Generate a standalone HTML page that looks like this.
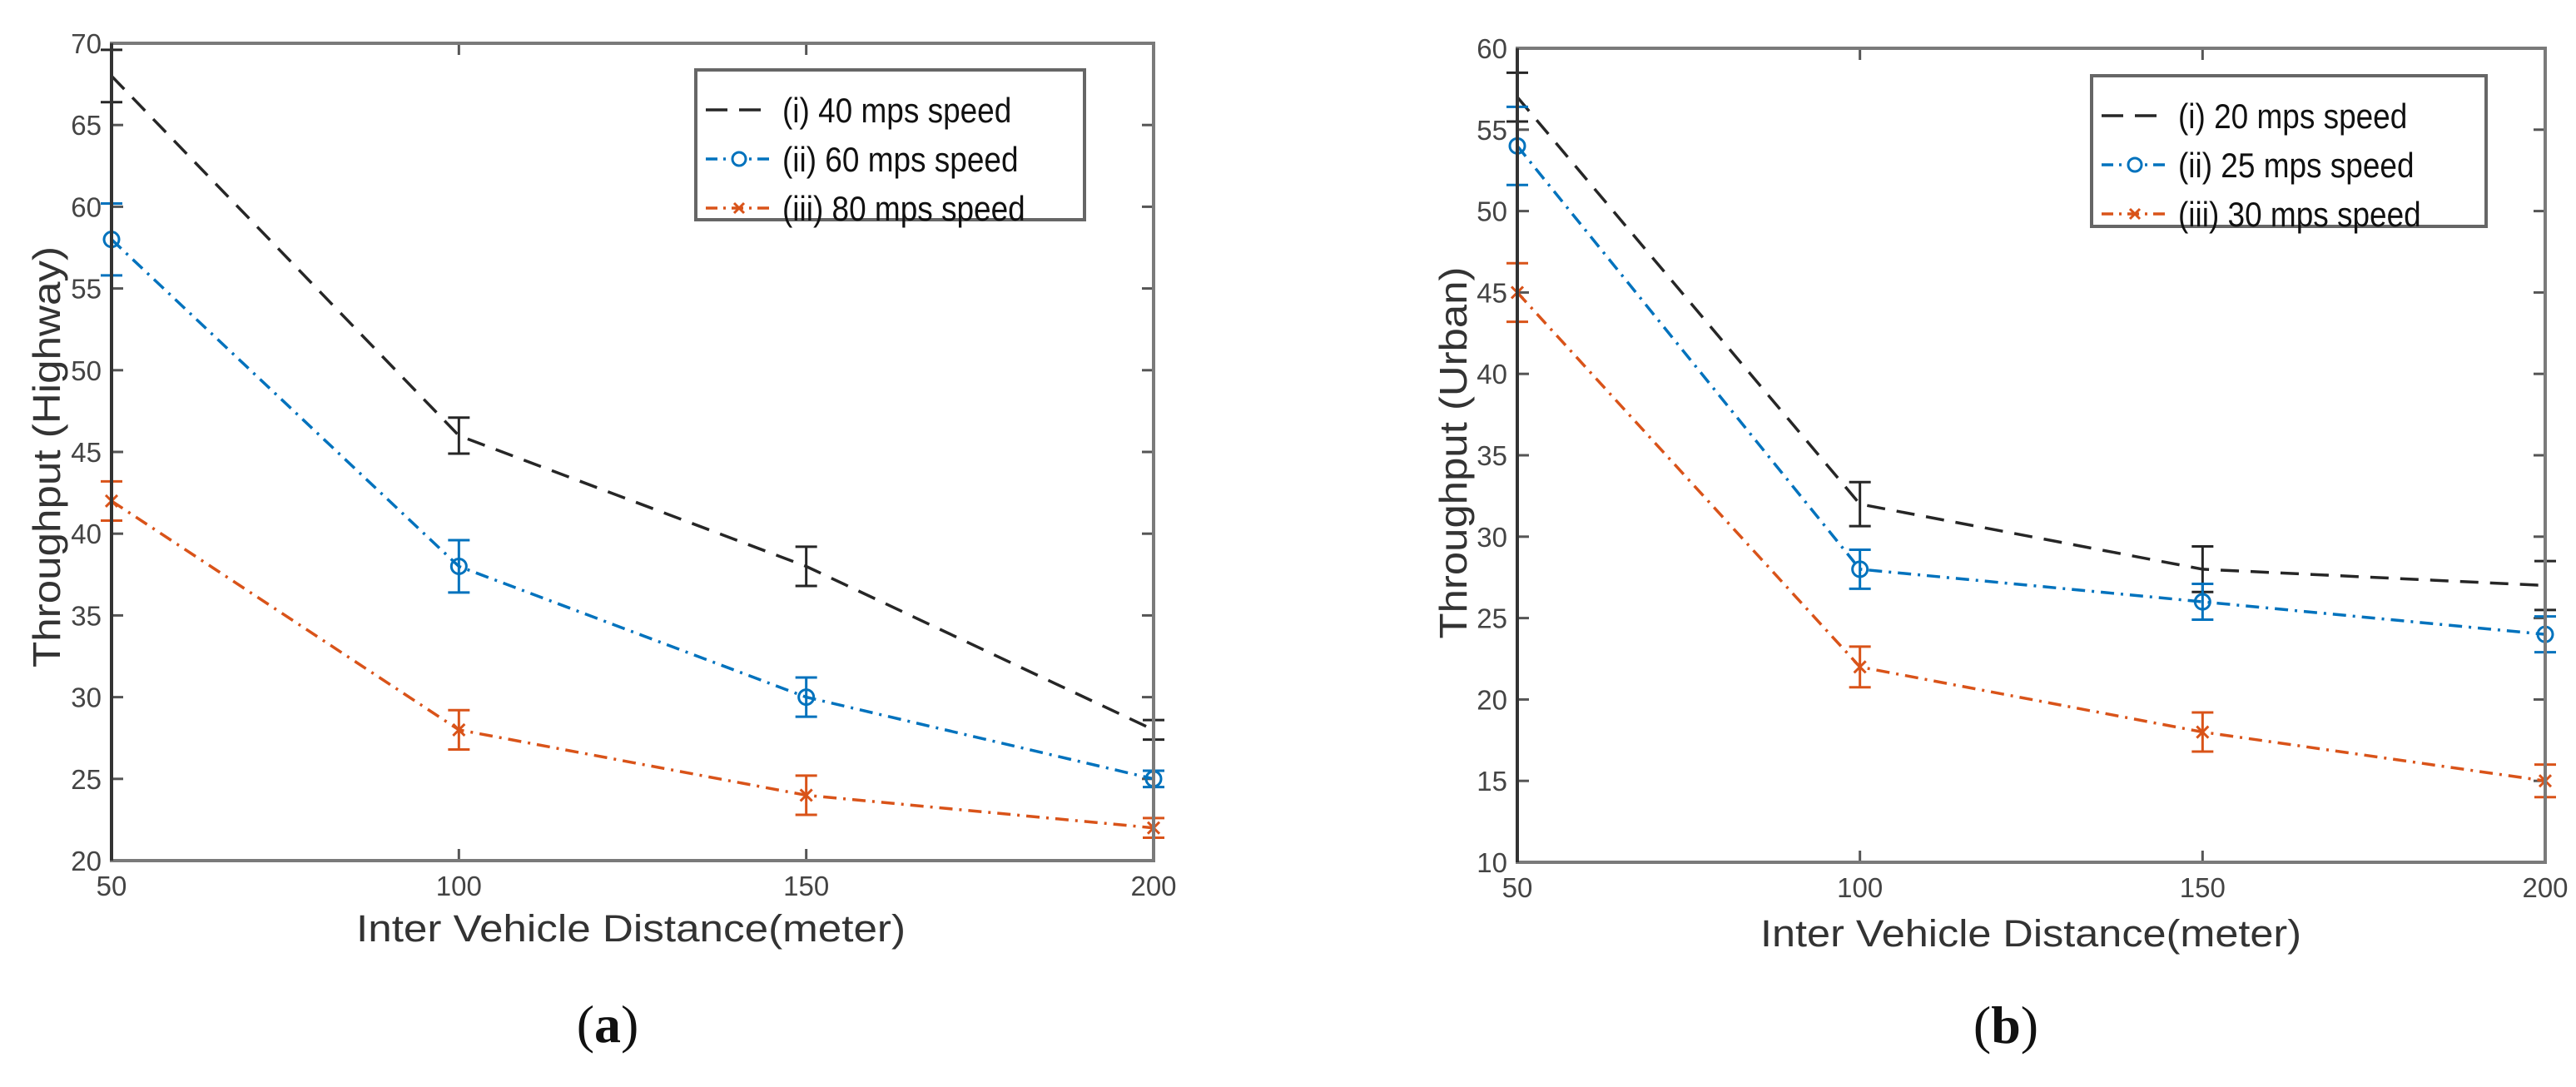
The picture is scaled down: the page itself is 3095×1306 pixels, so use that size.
<!DOCTYPE html>
<html><head><meta charset="utf-8"><style>
html,body{margin:0;padding:0;background:#fff;}
svg{display:block;font-family:"Liberation Sans",Arial,sans-serif;}
</style></head><body>
<svg id="fig" width="3095" height="1306" viewBox="0 0 3095 1306" xmlns="http://www.w3.org/2000/svg"></svg>
<script>
// ---- data ----
const xCats = [50, 100, 150, 200];
const xTickLabels = ["50", "100", "150", "200"];
const yTicksA = [20, 25, 30, 35, 40, 45, 50, 55, 60, 65, 70];
const yTicksB = [10, 15, 20, 25, 30, 35, 40, 45, 50, 55, 60];

const a40 = [68, 46, 38, 28];
const a40Err = [1.6, 1.1, 1.2, 0.6];
const a60 = [58, 38, 30, 25];
const a60Err = [2.2, 1.6, 1.2, 0.5];
const a80 = [42, 28, 24, 22];
const a80Err = [1.2, 1.2, 1.2, 0.6];

const b20 = [57, 32, 28, 27];
const b20Err = [1.5, 1.35, 1.4, 1.5];
const b25 = [54, 28, 26, 24];
const b25Err = [2.4, 1.2, 1.1, 1.1];
const b30 = [45, 22, 18, 15];
const b30Err = [1.8, 1.25, 1.2, 1.0];

const legendA = ["(i) 40 mps speed", "(ii) 60 mps speed", "(iii) 80 mps speed"];
const legendB = ["(i) 20 mps speed", "(ii) 25 mps speed", "(iii) 30 mps speed"];

const NS = "http://www.w3.org/2000/svg";
const svg = document.getElementById("fig");
function mk(tag, attrs, parent) {
  const e = document.createElementNS(NS, tag);
  for (const k in attrs) e.setAttribute(k, attrs[k]);
  (parent || svg).appendChild(e);
  return e;
}
const COLORS = ["#262626", "#0072BD", "#D95319"];
const DASH = ["22,14", "16,8,3,8", "16,8,3,8"];

function drawPanel(p) {
  const g = mk("g", {});
  
  
  const xs = v => p.x0 + (v - xCats[0]) / (xCats[xCats.length - 1] - xCats[0]) * (p.x1 - p.x0);
  const ys = v => p.y1 - (v - p.ymin) / (p.ymax - p.ymin) * (p.y1 - p.y0);
  const clip = mk("clipPath", {id: p.name + "-clip"}, g);
  mk("rect", {x: p.x0 - 30, y: p.y0, width: p.x1 - p.x0 + 60, height: p.y1 - p.y0}, clip);

  p.yTicks.forEach(t => {
    const y = ys(t);
    const l1 = mk("line", {x1: p.x0, x2: p.x0 + 14, y1: y, y2: y, stroke: "#555", "stroke-width": 3}, g);
    
    
    mk("line", {x1: p.x1 - 14, x2: p.x1, y1: y, y2: y, stroke: "#555", "stroke-width": 3}, g);
    const tx = mk("text", {x: p.x0 - 12, y: y + 12, "text-anchor": "end", "font-size": 33, fill: "#444"}, g);
    tx.textContent = t;
    
    
  });
  xCats.forEach((c, i) => {
    const x = xs(c);
    mk("line", {x1: x, x2: x, y1: p.y1, y2: p.y1 - 14, stroke: "#555", "stroke-width": 3}, g);
    mk("line", {x1: x, x2: x, y1: p.y0, y2: p.y0 + 14, stroke: "#555", "stroke-width": 3}, g);
    const tx = mk("text", {x: x, y: p.y1 + 42, "text-anchor": "middle", "font-size": 33, fill: "#444"}, g);
    tx.textContent = xTickLabels[i];
    
    
  });

  p.series.forEach((s, si) => {
    const sg = mk("g", {"clip-path": "url(#" + p.name + "-clip)"}, g);
    
    
    const pts = s.v.map((v, i) => xs(xCats[i]) + "," + ys(v)).join(" ");
    const pl = mk("polyline", {points: pts, fill: "none", stroke: COLORS[si], "stroke-width": 3.5, "stroke-dasharray": DASH[si]}, sg);
    
    
    s.v.forEach((v, i) => {
      const x = xs(xCats[i]);
      const yt = ys(v + s.e[i]), yb = ys(v - s.e[i]);
      const eb = mk("path", {d: `M${x},${yt}V${yb}M${x-13},${yt}H${x+13}M${x-13},${yb}H${x+13}`, stroke: COLORS[si], "stroke-width": 3, fill: "none"}, sg);
      
      
      const y = ys(v);
      if (si === 1) {
        const c = mk("circle", {cx: x, cy: y, r: 9, fill: "none", stroke: COLORS[si], "stroke-width": 3}, sg);
        
        
      } else if (si === 2) {
        const m = mk("path", {d: `M${x-7},${y-7}L${x+7},${y+7}M${x-7},${y+7}L${x+7},${y-7}`, stroke: COLORS[si], "stroke-width": 3}, sg);
        
        
      }
    });
  });

  const fr = mk("rect", {x: p.x0, y: p.y0, width: p.x1 - p.x0, height: p.y1 - p.y0, fill: "none", stroke: "#7a7a7a", "stroke-width": 4}, g);
  
  
  mk("line", {x1: p.x0, x2: p.x0, y1: p.y0, y2: p.y1, stroke: "#333", "stroke-width": 4}, g);

  const L = p.legend;
  const lg = mk("g", {}, g);
  
  
  mk("rect", {x: L.x, y: L.y, width: L.w, height: L.h, fill: "#fff", stroke: "#666", "stroke-width": 4}, lg);
  p.legendLabels.forEach((lab, i) => {
    const cy = L.y + 48 + i * 59;
    const e = mk("g", {}, lg);
    
    
    mk("line", {x1: L.x + 12, x2: L.x + 92, y1: cy, y2: cy, stroke: COLORS[i], "stroke-width": 3.5, "stroke-dasharray": i === 0 ? "26,14" : "14,7,3,7"}, e);
    if (i === 1) mk("circle", {cx: L.x + 52, cy: cy, r: 8, fill: "#fff", stroke: COLORS[i], "stroke-width": 3}, e);
    if (i === 2) mk("path", {d: `M${L.x+46},${cy-6}L${L.x+58},${cy+6}M${L.x+46},${cy+6}L${L.x+58},${cy-6}`, stroke: COLORS[i], "stroke-width": 3}, e);
    const t = mk("text", {x: L.x + 104, y: cy + 15, "font-size": 42, fill: "#111"}, e);
    t.textContent = lab;
    const w = t.getComputedTextLength();
    if (w > 0) {
      t.setAttribute("textLength", (w * 0.88).toFixed(1));
      t.setAttribute("lengthAdjust", "spacingAndGlyphs");
    }
  });

  const xt = mk("text", {x: p.xlabX, y: p.xlabY, "text-anchor": "middle", "font-size": 45, fill: "#333", textLength: p.xlabLen, lengthAdjust: "spacingAndGlyphs"}, g);
  xt.textContent = "Inter Vehicle Distance(meter)";
  
  
  const yt = mk("text", {x: 0, y: 0, "text-anchor": "middle", "font-size": 46, fill: "#333", textLength: p.ylabLen, lengthAdjust: "spacingAndGlyphs", transform: `translate(${p.ylabX},${p.ylabY}) rotate(-90)`}, g);
  yt.textContent = p.ylab;
  
  

  const cap = mk("text", {x: p.capX, y: p.capY, "text-anchor": "middle", "font-size": 64, fill: "#111", "font-family": "Liberation Serif, serif"}, g);
  
  
  const s1 = mk("tspan", {}, cap); s1.textContent = "(";
  const s2 = mk("tspan", {"font-weight": "bold"}, cap); s2.textContent = p.cap;
  const s3 = mk("tspan", {}, cap); s3.textContent = ")";
}

drawPanel({
  name: "panel-a-highway", x0: 134, x1: 1386, y0: 52, y1: 1034, ymin: 20, ymax: 70,
  yTicks: yTicksA,
  series: [{v: a40, e: a40Err}, {v: a60, e: a60Err}, {v: a80, e: a80Err}],
  legend: {x: 836, y: 84, w: 467, h: 180}, legendLabels: legendA,
  xlabX: 758, xlabY: 1131, xlabLen: 660,
  ylab: "Throughput (Highway)", ylabX: 72, ylabY: 549, ylabLen: 506,
  cap: "a", capX: 730, capY: 1252
});
drawPanel({
  name: "panel-b-urban", x0: 1823, x1: 3058, y0: 58, y1: 1036, ymin: 10, ymax: 60,
  yTicks: yTicksB,
  series: [{v: b20, e: b20Err}, {v: b25, e: b25Err}, {v: b30, e: b30Err}],
  legend: {x: 2513, y: 91, w: 474, h: 181}, legendLabels: legendB,
  xlabX: 2440, xlabY: 1137, xlabLen: 650,
  ylab: "Throughput (Urban)", ylabX: 1762, ylabY: 544, ylabLen: 447,
  cap: "b", capX: 2410, capY: 1253
});
</script>
</body></html>
